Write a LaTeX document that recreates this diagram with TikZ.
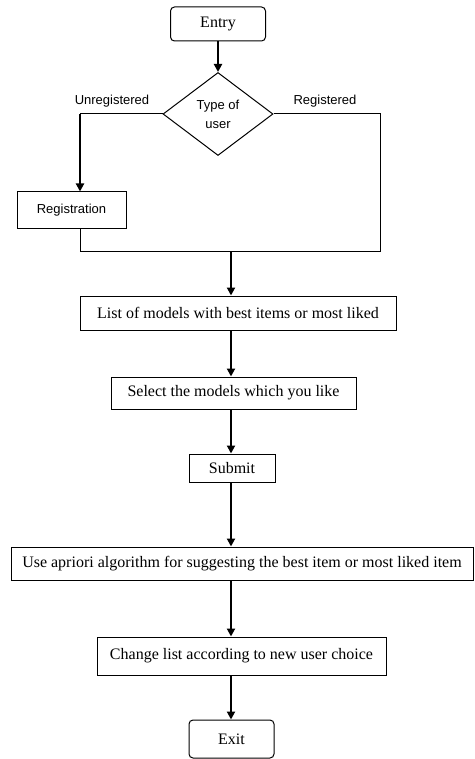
\documentclass[tikz,border=0pt]{standalone}
\usepackage{fontspec}
\setmainfont{Liberation Serif}
\newfontfamily\labelfont{Liberation Sans}
\usetikzlibrary{shapes.geometric,arrows.meta}

\begin{document}
\begin{tikzpicture}[
    x=1pt, y=-1pt,
    terminal/.style={draw, line width=1pt, rounded corners=4pt, inner sep=0pt,
                     font=\fontsize{16}{19}\selectfont, align=center},
    process/.style={draw, line width=1pt, inner sep=0pt,
                    font=\fontsize{16}{19}\selectfont, align=center},
    decision/.style={draw, diamond, line width=1pt, inner sep=0pt, aspect=1.33,
                     minimum width=110pt, minimum height=83pt,
                     font=\labelfont\fontsize{13}{19}\selectfont, align=center},
    regbox/.style={draw, line width=1pt, inner sep=0pt,
                   font=\labelfont\fontsize{13}{16}\selectfont, align=center},
    branch/.style={anchor=base, font=\labelfont\fontsize{13}{16}\selectfont},
    flow/.style={line width=2.4pt, -{Triangle[width=8pt,length=8pt]}},
    link/.style={line width=1pt},
  ]
    \useasboundingbox (0,0) rectangle (474,759);

    % boxes
    \node[terminal, minimum width=95pt, minimum height=34pt] (Entry) at (218,24) {Entry};
    \node[decision] (Type) at (218,114) {Type of\\user};
    \node[regbox, minimum width=109pt, minimum height=36pt] (Reg) at (71.5,210) {Registration};
    \node[process, minimum width=316pt, minimum height=34pt] (List) at (238,313)
      {List of models with best items or most liked};
    \node[process, minimum width=245pt, minimum height=32pt] (Select) at (233.5,393)
      {Select the models which you like};
    \node[process, minimum width=86pt, minimum height=28pt] (Submit) at (232,468) {Submit};
    \node[process, minimum width=462pt, minimum height=33pt] (Apriori) at (242,563.5)
      {Use apriori algorithm for suggesting the best item or most liked item};
    \node[process, minimum width=289pt, minimum height=38pt] (Change) at (241.5,656)
      {Change list according to new user choice};
    \node[terminal, minimum width=85pt, minimum height=38pt] (Exit) at (231.5,739) {Exit};

    % branch labels
    \node[branch] (unreglabel) at (112,105) {Unregistered};
    \node[branch] (reglabel) at (325,105) {Registered};

    % turning points
    \coordinate (unreg) at (80,114);
    \coordinate (regturn) at (380,251);
    \coordinate (join) at (80,251);
    \coordinate (merge) at (231,251);

    % connectors
    \draw[flow] (Entry) -- (Type);
    \draw[link] (Type.west) -- (unreg);
    \draw[flow] (unreg) -- (unreg |- Reg.north);
    \draw[link] (Type.east) -| (regturn) -- (join) -- (Reg.south -| join);
    \draw[flow] (merge) -- (merge |- List.north);
    \draw[flow] (List.south -| merge) -- (Select.north -| merge);
    \draw[flow] (Select.south -| merge) -- (Submit.north -| merge);
    \draw[flow] (Submit.south -| merge) -- (Apriori.north -| merge);
    \draw[flow] (Apriori.south -| merge) -- (Change.north -| merge);
    \draw[flow] (Change.south -| merge) -- (Exit.north -| merge);
\end{tikzpicture}
\end{document}
